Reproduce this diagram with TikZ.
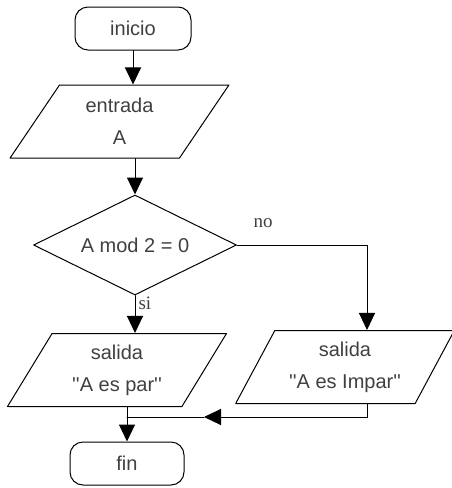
\documentclass[tikz,border=0pt]{standalone}
\usepackage{fontspec}
\setmainfont{Liberation Sans}
\newfontfamily\seriffont{Liberation Serif}
\usetikzlibrary{arrows.meta}
\usetikzlibrary{shapes.geometric}
\usetikzlibrary{calc}

\begin{document}
\begin{tikzpicture}[line cap=round,line join=round,>={Triangle[width=16pt,length=17pt]},x=1pt,y=-1pt,
    every node/.style={text=black!75},
    term/.style={draw=black,line width=1pt,rounded corners=13pt,minimum width=116pt,minimum height=43pt,font=\fontsize{20}{24}\selectfont},
    io/.style={draw=black,line width=1pt,trapezium,trapezium left angle=60,trapezium right angle=120,trapezium stretches=true,minimum width=219pt,minimum height=73pt,align=center,font=\fontsize{20}{32}\selectfont},
    cond/.style={draw=black,line width=1pt,diamond,aspect=2,inner sep=0pt,minimum width=203pt,minimum height=100pt,font=\fontsize{20}{24}\selectfont},
    lbl/.style={font=\seriffont\fontsize{19}{22}\selectfont},
    flow/.style={line width=1pt,draw=black}]
      \useasboundingbox (0,0) rectangle (452,488);
      % bloques
      \node[term] (inicio) at (133,28.5) {inicio};
      \node[io] (entrada) at (119.5,121.5) {entrada\\A};
      \node[cond] (dia) at (135,245) {A mod 2 = 0};
      \node[io] (par) at (117,370) {salida\\\textquotesingle\textquotesingle A es par\textquotesingle\textquotesingle};
      \node[io] (impar) at (345,367) {salida\\\textquotesingle\textquotesingle A es Impar\textquotesingle\textquotesingle};
      \node[term,minimum width=114pt] (fin) at (127,463.5) {fin};
      % puntos auxiliares
      \coordinate (rx) at ($(impar.north)+(22,0)$);
      \coordinate (join) at ($(fin.north |- impar.south)+(0,13)$);
      \coordinate (tip) at ($(join)+(77,0)$);
      % flechas
      \draw[flow,->] (inicio) -- (inicio |- entrada.north);
      \draw[flow,->] (dia.north |- entrada.south) -- (dia);
      \draw[flow,->] (dia) -- (dia |- par.north) node[lbl,pos=0,anchor=north west,xshift=2pt,inner sep=1pt] {si};
      \draw[flow,->] (dia) -- (dia -| rx) node[lbl,pos=0.2,above=13pt] {no} -- (rx |- impar.north);
      \draw[flow,->] (rx |- impar.south) |- (tip);
      \draw[flow] (tip) -- (join);
      \draw[flow,->] (par.south -| fin) -- (fin);
\end{tikzpicture}
\end{document}
